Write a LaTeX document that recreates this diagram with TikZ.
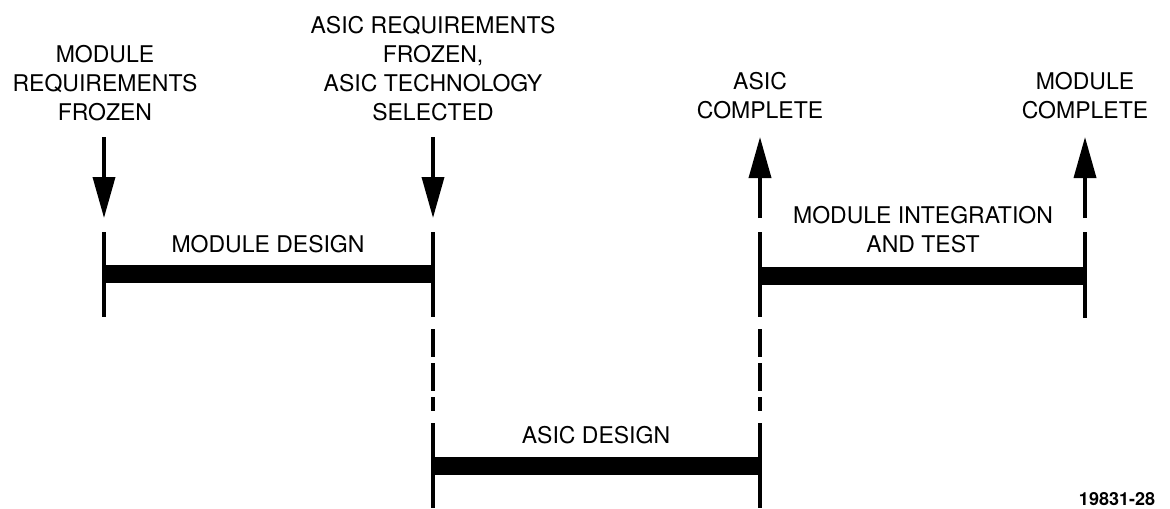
\documentclass[tikz,border=0pt]{standalone}
\usepackage{fontspec}
\setmainfont{TeX Gyre Heros}
\usetikzlibrary{arrows.meta,positioning}

\begin{document}
\begin{tikzpicture}[x=0.5pt,y=-0.5pt,
    milestone/.style={-{Triangle[length=20.5pt,width=11pt]},line width=1.8pt},
    tick/.style={line width=1.8pt},
    tickdash/.style={line width=1.8pt,dash pattern=on 14pt off 3pt},
    task/.style={line width=9pt},
    lbl/.style={align=center,inner sep=0pt,font=\fontsize{11.5}{14.5}\selectfont}]
    \useasboundingbox (0,0) rectangle (1170,508);

    % milestone labels
    \node[lbl,anchor=south] (modreq) at (105,121) {MODULE\\REQUIREMENTS\\FROZEN};
    \node[lbl,anchor=south] (asicreq) at (433,121) {ASIC REQUIREMENTS\\FROZEN,\\ASIC TECHNOLOGY\\SELECTED};
    \node[lbl,anchor=south] (asicdone) at (760,119) {ASIC\\COMPLETE};
    \node[lbl,anchor=south] (moddone) at (1085,119) {MODULE\\COMPLETE};

    % milestone points
    \coordinate (a0) at (104,137); \coordinate (a1) at (104,218);
    \coordinate (b0) at (433,137); \coordinate (b1) at (433,218);
    \coordinate (c0) at (760,137); \coordinate (c1) at (760,218);
    \coordinate (d0) at (1085,137); \coordinate (d1) at (1085,218);

    \draw[milestone] (a0) -- (a1);
    \draw[milestone] (b0) -- (b1);
    \draw[milestone] (c1) -- (c0);
    \draw[milestone] (d1) -- (d0);

    % ticks
    \coordinate (at) at (104,232); \coordinate (ab) at (104,317);
    \coordinate (bt) at (433,232); \coordinate (bb) at (433,317);
    \coordinate (ct) at (760,232); \coordinate (cb) at (760,317);
    \coordinate (dt) at (1085,232); \coordinate (db) at (1085,318);
    \coordinate (bu) at (433,329); \coordinate (bl) at (433,411);
    \coordinate (cu) at (760,329); \coordinate (cl) at (760,411);
    \coordinate (bz) at (433,423); \coordinate (be) at (433,508);
    \coordinate (cz) at (760,423); \coordinate (ce) at (760,508);

    \draw[tick] (at) -- (ab);
    \draw[tick] (bt) -- (bb);
    \draw[tick] (ct) -- (cb);
    \draw[tick] (dt) -- (db);
    \draw[tickdash] (bu) -- (bl);
    \draw[tickdash] (cu) -- (cl);
    \draw[tick] (bz) -- (be);
    \draw[tick] (cz) -- (ce);

    % tasks
    \coordinate (p1) at (104,274); \coordinate (p2) at (433,274);
    \coordinate (q1) at (433,466); \coordinate (q2) at (760,466);
    \coordinate (r1) at (760,276); \coordinate (r2) at (1085,276);

    \draw[task] (p1) -- (p2);
    \draw[task] (q1) -- (q2);
    \draw[task] (r1) -- (r2);

    \node[lbl,anchor=base] (moddesign) at (268,252) {MODULE DESIGN};
    \node[lbl,anchor=base] (asicdesign) at (596,443) {ASIC DESIGN};
    \node[lbl,anchor=south] (modint) at (923,253) {MODULE INTEGRATION\\AND TEST};

    \node[inner sep=0pt,anchor=base,font=\fontsize{9}{10}\selectfont\bfseries] (fig) at (1117,505) {19831-28};
\end{tikzpicture}
\end{document}
